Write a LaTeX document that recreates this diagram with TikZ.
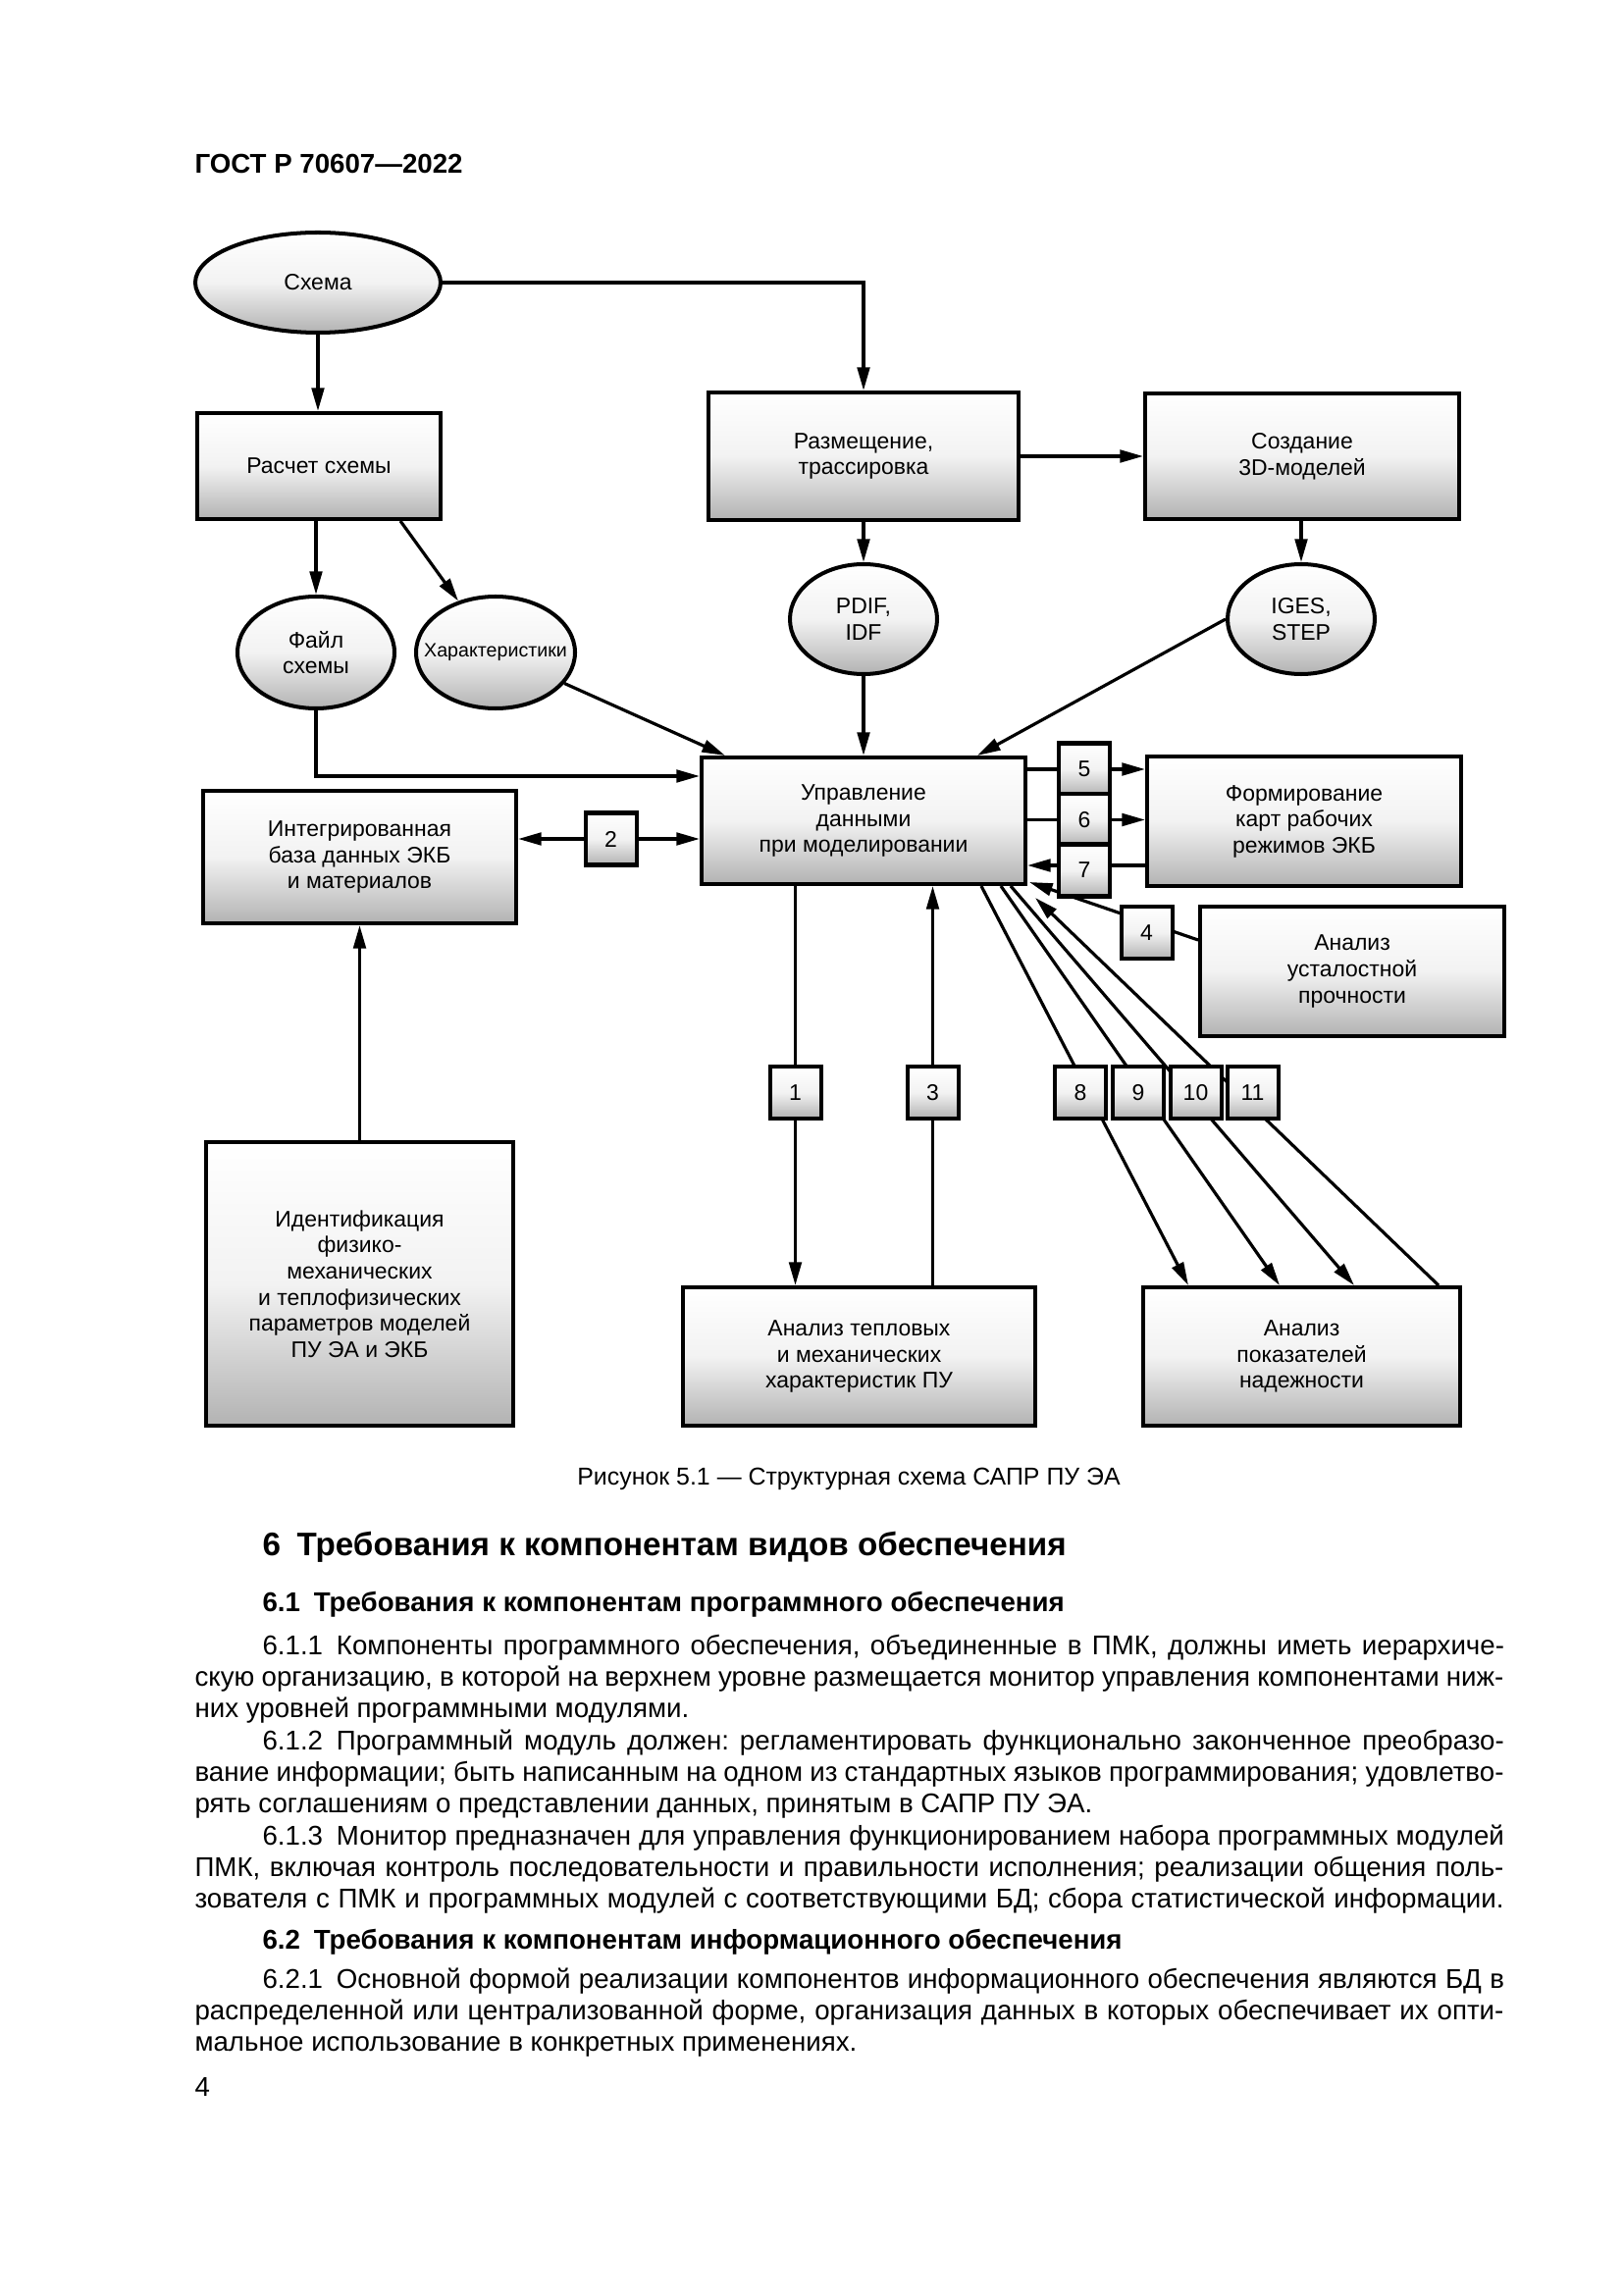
\documentclass[tikz,border=0pt]{standalone}
\usepackage{fontspec}
\setmainfont{Liberation Sans}
\usetikzlibrary{arrows.meta,calc,shapes.geometric}
\pgfdeclarelayer{bg}
\pgfsetlayers{bg,main}
\frenchspacing
\newcommand\figfont{\fontsize{8.3}{9.6}\selectfont}
\newcommand\smallfigfont{\fontsize{7.1}{8.5}\selectfont}
\newcommand\bodyfont{\fontsize{10}{11.7}\selectfont}
\newcommand\jl[1]{\makebox[169.4mm][s]{#1}}
\newcommand\ji[1]{\makebox[160.7mm][s]{#1}}
\def\pu{0.127mm}
\begin{document}
\frenchspacing
\begin{tikzpicture}[x=0.127mm,y=-0.127mm,
  wh/.style 2 args={minimum width={#1*\pu},minimum height={#2*\pu}},
  shd/.style={top color=white,bottom color=black!30,middle color=black!5},
  box/.style={draw,line width=1.45pt,rectangle,inner sep=0pt,shd,align=center,font=\figfont},
  ell/.style={draw,line width=1.45pt,ellipse,inner sep=0pt,shd},
  num/.style={box,wh={52}{53}},
  txt/.style={align=center,font=\figfont,inner sep=0pt},
  con/.style={line width=1.15pt},
  arr/.style={con,-{Triangle[length=3mm,width=1.6mm]}},
  body/.style={anchor=base west,inner sep=0pt,font=\bodyfont},
  head/.style={anchor=base west,inner sep=0pt,font=\bfseries\fontsize{10}{12}\selectfont},
]
\useasboundingbox (0,0) rectangle (1654,2339);

% ---------- nodes ----------
\node[ell,wh={250}{102}] (shema) at (324,288) {};
\node[txt] (tshema) at (shema) {Схема};
\node[box,wh={248}{108}] (raschet) at (325,475) {Расчет схемы};
\node[box,wh={316}{130}] (razm) at (880,465) {Размещение,\\трассировка};
\node[box,wh={320}{128}] (sozd) at (1327,465) {Создание\\3D-моделей};
\node[ell,wh={150}{112}] (pdif) at (880,631) {};
\node[txt] (tpdif) at (pdif) {PDIF,\\IDF};
\node[ell,wh={150}{112}] (iges) at (1326,631) {};
\node[txt] (tiges) at (iges) {IGES,\\STEP};
\node[ell,wh={160}{114}] (fajl) at (322,665) {};
\node[txt] (tfajl) at (fajl) {Файл\\схемы};
\node[ell,wh={162}{114}] (harak) at (505,665) {};
\node[txt,font=\smallfigfont] (tharak) at (harak) {Характеристики};
\node[box,wh={330}{129}] (upr) at (880,836.5) {Управление\\данными\\при моделировании};
\node[box,wh={319}{135}] (integ) at (366.5,873.5) {Интегрированная\\база данных ЭКБ\\и материалов};
\node[box,wh={320}{132}] (form) at (1329,837) {Формирование\\карт рабочих\\режимов ЭКБ};
\node[box,wh={310}{132}] (ustal) at (1378,990) {Анализ\\усталостной\\прочности};
\node[box,wh={313}{289}] (ident) at (366.5,1308.5) {Идентификация\\физико-\\механических\\и теплофизических\\параметров моделей\\ПУ ЭА и ЭКБ};
\node[box,wh={359}{141}] (teplo) at (875.5,1382.5) {Анализ тепловых\\и механических\\характеристик ПУ};
\node[box,wh={323}{141}] (nadezh) at (1326.5,1382.5) {Анализ\\показателей\\надежности};

\node[num] (n2) at (622.5,855) {2};
\node[num] (n5) at (1105,784) {5};
\node[num] (n6) at (1105,835.5) {6};
\node[num] (n7) at (1105,887) {7};
\node[num] (n4) at (1168.5,950.5) {4};
\node[num] (n1) at (810.5,1113.5) {1};
\node[num] (n3) at (950.5,1113.5) {3};
\node[num] (n8) at (1101,1113.5) {8};
\node[num] (n9) at (1160,1113.5) {9};
\node[num] (n10) at (1218.5,1113.5) {10};
\node[num] (n11) at (1276.5,1113.5) {11};

% ---------- connectors ----------
\begin{pgfonlayer}{bg}
\fill[white] (0,0) rectangle (1654,2339);
\draw[arr] (shema.south) -- (shema.south |- raschet.north);
\draw[arr] (shema.east) -| (razm.north);
\draw[arr] (razm.east) -- (sozd.west |- razm.east);
\draw[arr] (razm.south) -- (pdif.north);
\draw[arr] (sozd.south -| iges.north) -- (iges.north);
\draw[arr] (raschet.south -| fajl.north) -- (fajl.north);
\draw[arr] (raschet.-34) -- (harak);
\draw[arr] (fajl.south) |- ($(upr.north west)+(0,21)$);
\draw[arr] (harak) -- ($(upr.north west)+(26,0)$);
\draw[arr] (pdif.south) -- (pdif.south |- upr.north);
\draw[arr] (iges.west) -- ($(upr.north east)+(-51,0)$);
\draw[arr] (n2.west) -- (integ.east |- n2);
\draw[arr] (n2.east) -- (upr.west |- n2);
\draw[arr] (upr.east |- n5) -- (form.west |- n5);
\draw[arr] (upr.east |- n6) -- (form.west |- n6);
\draw[arr] ($(form.west |- n7)+(0,-5)$) -- ($(upr.east |- n7)+(0,-5)$);
\draw[arr] ($(ustal.north west)+(0,36)$) -- ($(upr.south east)+(2,-4)$);
\draw[arr] (upr.south -| n1) -- (teplo.north -| n1);
\draw[arr] (teplo.north -| n3) -- (upr.south -| n3);
\draw[arr] ($(upr.south west)+(287,0)$) -- ($(nadezh.north west)+(48,0)$);
\draw[arr] ($(upr.south west)+(307,0)$) -- ($(nadezh.north west)+(141,0)$);
\draw[arr] ($(upr.south west)+(317,0)$) -- ($(nadezh.north west)+(217,0)$);
\draw[arr] ($(nadezh.north west)+(303,0)$) -- ($(upr.south east)+(8,12)$);
\draw[arr] (ident.north) -- (integ.south);
\end{pgfonlayer}

% ---------- page text ----------
\node[anchor=base west,inner sep=0pt,font=\bfseries\fontsize{10}{12}\selectfont] (title) at (198,177) {ГОСТ Р 70607—2022};
\node[anchor=base,inner sep=0pt,font=\fontsize{9}{11}\selectfont] (caption) at (865,1513) {Рисунок 5.1 — Структурная схема САПР ПУ ЭА};
\node[anchor=base west,inner sep=0pt,font=\bfseries\fontsize{12}{14}\selectfont] (h6) at (267,1585) {6\hspace{0.5em}Требования к компонентам видов обеспечения};
\node[head] (h61) at (267,1642) {6.1\hspace{0.5em}Требования к компонентам программного обеспечения};
\node[body] (l1) at (267,1686) {\ji{6.1.1\hspace{0.5em}Компоненты программного обеспечения, объединенные в ПМК, должны иметь иерархиче-}};
\node[body] (l2) at (198,1718) {\jl{скую организацию, в которой на верхнем уровне размещается монитор управления компонентами ниж-}};
\node[body] (l3) at (198,1750) {них уровней программными модулями.};
\node[body] (l4) at (267,1783) {\ji{6.1.2\hspace{0.5em}Программный модуль должен: регламентировать функционально законченное преобразо-}};
\node[body] (l5) at (198,1815) {\jl{вание информации; быть написанным на одном из стандартных языков программирования; удовлетво-}};
\node[body] (l6) at (198,1847) {рять соглашениям о представлении данных, принятым в САПР ПУ ЭА.};
\node[body] (l7) at (267,1880) {\ji{6.1.3\hspace{0.5em}Монитор предназначен для управления функционированием набора программных модулей}};
\node[body] (l8) at (198,1912) {\jl{ПМК, включая контроль последовательности и правильности исполнения; реализации общения поль-}};
\node[body] (l9) at (198,1944) {\jl{зователя с ПМК и программных модулей с соответствующими БД; сбора статистической информации.}};
\node[head] (h62) at (267,1986) {6.2\hspace{0.5em}Требования к компонентам информационного обеспечения};
\node[body] (l10) at (267,2026) {\ji{6.2.1\hspace{0.5em}Основной формой реализации компонентов информационного обеспечения являются БД в}};
\node[body] (l11) at (198,2058) {\jl{распределенной или централизованной форме, организация данных в которых обеспечивает их опти-}};
\node[body] (l12) at (198,2090) {мальное использование в конкретных применениях.};
\node[body] (pnum) at (198,2136) {4};
\end{tikzpicture}
\end{document}
